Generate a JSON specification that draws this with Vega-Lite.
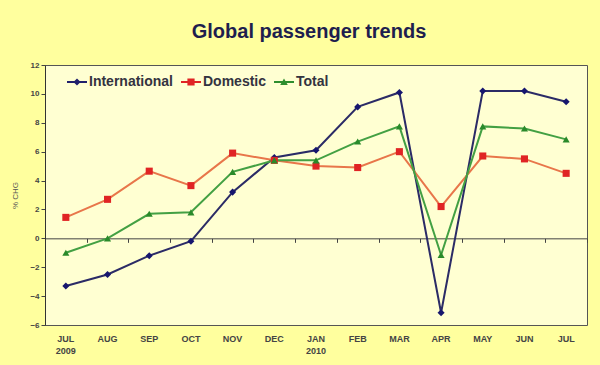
{
  "$schema": "https://vega.github.io/schema/vega-lite/v6.json",
  "width": 542,
  "height": 260,
  "autosize": {"type": "none"},
  "padding": {"left": 45, "top": 65, "right": 13, "bottom": 40},
  "background": "#FFFF9E",
  "config": {
    "view": {"fill": "#FFFFD2", "stroke": "#555555", "strokeWidth": 1},
    "font": "Liberation Sans"
  },
  "title": {
    "text": "Global passenger trends",
    "fontSize": 20,
    "fontWeight": "bold",
    "color": "#1E1E4E",
    "anchor": "middle",
    "frame": "group",
    "offset": 19,
    "dx": -7
  },
  "data": {
    "values": [
      {"period": "JUL 2009", "series": "International", "value": -3.3},
      {"period": "AUG", "series": "International", "value": -2.5},
      {"period": "SEP", "series": "International", "value": -1.2},
      {"period": "OCT", "series": "International", "value": -0.2},
      {"period": "NOV", "series": "International", "value": 3.2},
      {"period": "DEC", "series": "International", "value": 5.6},
      {"period": "JAN 2010", "series": "International", "value": 6.1},
      {"period": "FEB", "series": "International", "value": 9.1},
      {"period": "MAR", "series": "International", "value": 10.1},
      {"period": "APR", "series": "International", "value": -5.15},
      {"period": "MAY", "series": "International", "value": 10.2},
      {"period": "JUN", "series": "International", "value": 10.2},
      {"period": "JUL", "series": "International", "value": 9.45},
      {"period": "JUL 2009", "series": "Domestic", "value": 1.45},
      {"period": "AUG", "series": "Domestic", "value": 2.7},
      {"period": "SEP", "series": "Domestic", "value": 4.65},
      {"period": "OCT", "series": "Domestic", "value": 3.65},
      {"period": "NOV", "series": "Domestic", "value": 5.9},
      {"period": "DEC", "series": "Domestic", "value": 5.4},
      {"period": "JAN 2010", "series": "Domestic", "value": 5.0},
      {"period": "FEB", "series": "Domestic", "value": 4.9},
      {"period": "MAR", "series": "Domestic", "value": 6.0},
      {"period": "APR", "series": "Domestic", "value": 2.2},
      {"period": "MAY", "series": "Domestic", "value": 5.7},
      {"period": "JUN", "series": "Domestic", "value": 5.5},
      {"period": "JUL", "series": "Domestic", "value": 4.5},
      {"period": "JUL 2009", "series": "Total", "value": -1.0},
      {"period": "AUG", "series": "Total", "value": 0.0},
      {"period": "SEP", "series": "Total", "value": 1.7},
      {"period": "OCT", "series": "Total", "value": 1.8},
      {"period": "NOV", "series": "Total", "value": 4.6},
      {"period": "DEC", "series": "Total", "value": 5.4},
      {"period": "JAN 2010", "series": "Total", "value": 5.4},
      {"period": "FEB", "series": "Total", "value": 6.7},
      {"period": "MAR", "series": "Total", "value": 7.75},
      {"period": "APR", "series": "Total", "value": -1.15},
      {"period": "MAY", "series": "Total", "value": 7.75},
      {"period": "JUN", "series": "Total", "value": 7.6},
      {"period": "JUL", "series": "Total", "value": 6.85}
    ]
  },
  "encoding": {
    "y": {
      "field": "value",
      "type": "quantitative",
      "scale": {"domain": [-6, 12], "nice": false, "zero": false},
      "axis": {
        "values": [-6, -4, -2, 0, 2, 4, 6, 8, 10, 12],
        "grid": false,
        "labelFontSize": 8,
        "labelFontWeight": "bold",
        "labelColor": "#444444",
        "labelPadding": 2,
        "tickSize": 4,
        "tickColor": "#444444",
        "domainColor": "#333333",
        "title": "% CHG",
        "titleFontSize": 8,
        "titleFontWeight": "normal",
        "titleColor": "#555555",
        "titlePadding": 10
      }
    }
  },
  "layer": [
    {
      "transform": [{"filter": "datum.series === 'International'"}],
      "mark": {"type": "line", "strokeWidth": 2, "stroke": "#2B2B66"},
      "encoding": {
        "x": {
          "field": "period",
          "type": "nominal",
          "sort": null,
          "scale": {"type": "band", "paddingInner": 0, "paddingOuter": 0},
          "axis": {
            "orient": "bottom",
            "ticks": false,
            "domain": false,
            "grid": false,
            "labelExpr": "split(datum.label, ' ')",
            "labelAngle": 0,
            "labelFontSize": 9,
            "labelFontWeight": "bold",
            "labelColor": "#444444",
            "labelPadding": 9,
            "labelLineHeight": 12,
            "title": null
          }
        }
      }
    },
    {
      "transform": [{"filter": "datum.series === 'Domestic'"}],
      "mark": {"type": "line", "strokeWidth": 2, "stroke": "#E8764A"},
      "encoding": {
        "x": {"field": "period", "type": "nominal", "sort": null, "scale": {"type": "band", "paddingInner": 0, "paddingOuter": 0}, "axis": null}
      }
    },
    {
      "transform": [{"filter": "datum.series === 'Total'"}],
      "mark": {"type": "line", "strokeWidth": 2, "stroke": "#43A043"},
      "encoding": {
        "x": {"field": "period", "type": "nominal", "sort": null, "scale": {"type": "band", "paddingInner": 0, "paddingOuter": 0}, "axis": null}
      }
    },
    {
      "transform": [{"filter": "datum.series === 'International'"}],
      "mark": {"type": "point", "filled": true, "opacity": 1, "size": 50, "shape": "diamond", "fill": "#16166E"},
      "encoding": {
        "x": {
          "field": "period",
          "type": "nominal",
          "sort": null,
          "scale": {"type": "band", "paddingInner": 0, "paddingOuter": 0},
          "axis": {
            "orient": "bottom",
            "offset": -86.67,
            "labels": false,
            "ticks": true,
            "tickBand": "extent",
            "tickSize": 4,
            "tickColor": "#444444",
            "domainColor": "#444444",
            "grid": false,
            "title": null
          }
        }
      }
    },
    {
      "transform": [{"filter": "datum.series === 'Domestic'"}],
      "mark": {"type": "point", "filled": true, "opacity": 1, "size": 50, "shape": "square", "fill": "#E02424"},
      "encoding": {
        "x": {"field": "period", "type": "nominal", "sort": null, "scale": {"type": "band", "paddingInner": 0, "paddingOuter": 0}, "axis": null}
      }
    },
    {
      "transform": [{"filter": "datum.series === 'Total'"}],
      "mark": {"type": "point", "filled": true, "opacity": 1, "size": 50, "shape": "triangle-up", "fill": "#2A8A2A"},
      "encoding": {
        "x": {"field": "period", "type": "nominal", "sort": null, "scale": {"type": "band", "paddingInner": 0, "paddingOuter": 0}, "axis": null}
      }
    },
    {
      "transform": [{"filter": "false"}],
      "mark": {"type": "point", "filled": true, "opacity": 1},
      "encoding": {
        "x": {"field": "period", "type": "nominal", "sort": null, "scale": {"type": "band", "paddingInner": 0, "paddingOuter": 0}, "axis": null},
        "shape": {
          "field": "series",
          "type": "nominal",
          "scale": {
            "domain": ["International", "Domestic", "Total"],
            "range": [
              "M-1,-0.1L1,-0.1L1,0.1L-1,0.1Z M-0.36,0L0,-0.36L0.36,0L0,0.36Z",
              "M-1,-0.1L1,-0.1L1,0.1L-1,0.1Z M-0.36,-0.36L0.36,-0.36L0.36,0.36L-0.36,0.36Z",
              "M-1,-0.1L1,-0.1L1,0.1L-1,0.1Z M-0.38,0.3L0,-0.34L0.38,0.3Z"
            ]
          }
        },
        "color": {
          "field": "series",
          "type": "nominal",
          "scale": {"domain": ["International", "Domestic", "Total"], "range": ["#20206C", "#E02424", "#2E8E2E"]},
          "legend": {
            "orient": "none",
            "legendX": 22,
            "legendY": 7,
            "direction": "horizontal",
            "columns": 3,
            "title": null,
            "padding": 0,
            "symbolSize": 400,
            "symbolStrokeWidth": 0,
            "labelOffset": 2,
            "columnPadding": 7,
            "labelFontSize": 14,
            "labelFontWeight": "bold",
            "labelColor": "#333340"
          }
        }
      }
    }
  ],
  "resolve": {"axis": {"x": "independent"}}
}
